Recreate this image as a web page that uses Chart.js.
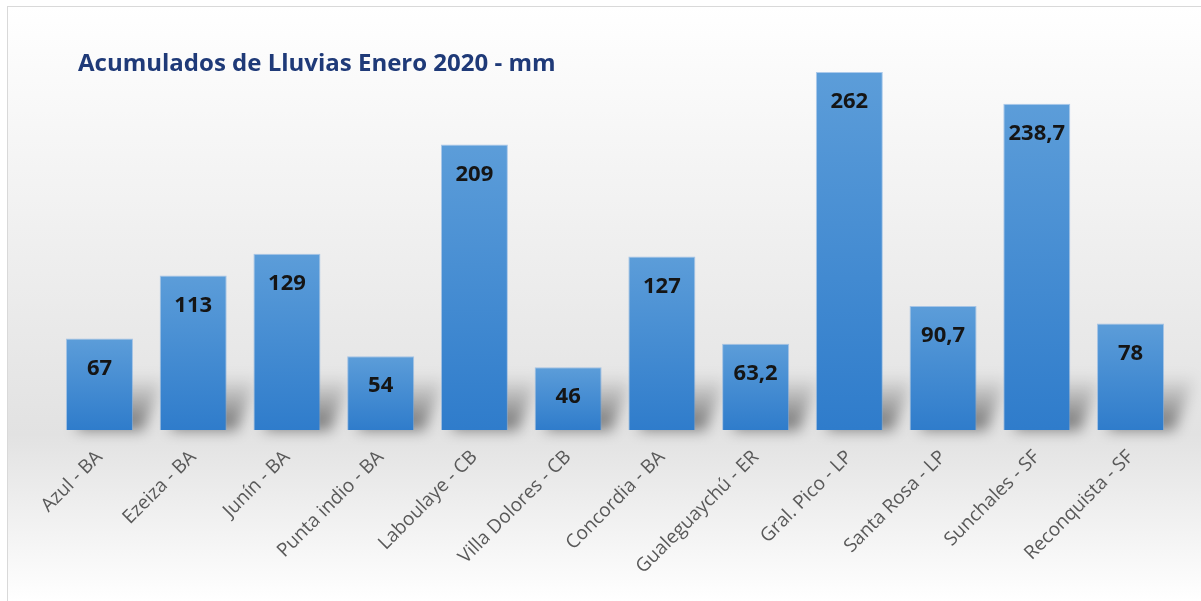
<!DOCTYPE html>
<html>
<head>
<meta charset="utf-8">
<script src="https://cdn.jsdelivr.net/npm/chart.js@4/dist/chart.umd.min.js"></script>
<style>
  body { margin: 0; background: #fff; }
  #wrap { width: 1201px; height: 601px; position: relative; }
</style>
</head>
<body>
<div id="wrap"><canvas id="chart"></canvas></div>
<script>
// Chart data
const chartTitle = 'Acumulados de Lluvias Enero 2020 - mm';
const stations = [
  'Azul - BA', 'Ezeiza - BA', 'Junín - BA', 'Punta indio - BA', 'Laboulaye - CB',
  'Villa Dolores - CB', 'Concordia - BA', 'Gualeguaychú - ER', 'Gral. Pico - LP',
  'Santa Rosa - LP', 'Sunchales - SF', 'Reconquista - SF'
];
const rainfall = [67, 113, 129, 54, 209, 46, 127, 63.2, 262, 90.7, 238.7, 78];

// background panel with soft grey band behind the bar bases
const panelPlugin = {
  id: 'panel',
  beforeDraw(chart) {
    const ctx = chart.ctx;
    const w = chart.width, h = chart.height;
    ctx.save();
    ctx.fillStyle = '#ffffff';
    ctx.fillRect(0, 0, w, h);
    const g = ctx.createLinearGradient(0, 6, 0, h);
    g.addColorStop(0, '#ffffff');
    g.addColorStop(0.72, '#e2e2e2');
    g.addColorStop(1, '#ffffff');
    ctx.fillStyle = g;
    ctx.fillRect(7, 6, w - 7, h - 6);
    ctx.strokeStyle = '#d9d9d9';
    ctx.lineWidth = 1;
    ctx.strokeRect(7.5, 6.5, w, h);
    // title
    ctx.fillStyle = '#1f3a78';
    ctx.font = 'bold 24px "Open Sans", sans-serif';
    ctx.textBaseline = 'middle';
    ctx.fillText(chartTitle, 78, 64);
    ctx.restore();
  }
};

// soft floor shadows at the foot of each bar
const shadowPlugin = {
  id: 'barShadows',
  beforeDatasetsDraw(chart) {
    const ctx = chart.ctx;
    const meta = chart.getDatasetMeta(0);
    ctx.save();
    ctx.filter = 'blur(7px)';
    meta.data.forEach(bar => {
      const left = bar.x - bar.width / 2;
      const right = bar.x + bar.width / 2;
      const base = bar.base;
      const g = ctx.createLinearGradient(0, base, 0, base - 55);
      g.addColorStop(0, 'rgba(0,0,0,0.5)');
      g.addColorStop(1, 'rgba(0,0,0,0)');
      ctx.fillStyle = g;
      ctx.beginPath();
      ctx.moveTo(left + 10, base);
      ctx.lineTo(right + 10, base);
      ctx.lineTo(right + 32, base - 55);
      ctx.lineTo(left + 32, base - 55);
      ctx.closePath();
      ctx.fill();
    });
    ctx.restore();
  }
};

// value labels inside the top of each bar
const valueLabels = {
  id: 'valueLabels',
  afterDatasetsDraw(chart) {
    const ctx = chart.ctx;
    const meta = chart.getDatasetMeta(0);
    ctx.save();
    ctx.fillStyle = '#151515';
    ctx.font = 'bold 22px "Open Sans", sans-serif';
    ctx.textAlign = 'center';
    ctx.textBaseline = 'middle';
    meta.data.forEach((bar, i) => {
      const txt = String(rainfall[i]).replace('.', ',');
      ctx.fillText(txt, bar.x, bar.y + 30);
    });
    ctx.restore();
  }
};

function barGradient(context) {
  const chart = context.chart;
  const area = chart.chartArea;
  if (!area) return '#4a8fd4';
  const y = chart.scales.y;
  const top = y.getPixelForValue(rainfall[context.dataIndex]);
  const bottom = y.getPixelForValue(0);
  const g = chart.ctx.createLinearGradient(0, top, 0, bottom);
  g.addColorStop(0, '#5c9dd9');
  g.addColorStop(1, '#2f7ccb');
  return g;
}

new Chart(document.getElementById('chart'), {
  type: 'bar',
  data: {
    labels: stations,
    datasets: [{
      data: rainfall,
      backgroundColor: barGradient,
      borderColor: 'rgba(120,170,225,0.6)',
      borderWidth: 1,
      barPercentage: 0.715,
      categoryPercentage: 1
    }]
  },
  options: {
    responsive: true,
    maintainAspectRatio: false,
    animation: false,
    devicePixelRatio: 1,
    layout: { padding: { left: 52.6, right: 23.6, top: 47.4, bottom: 0 } },
    plugins: {
      legend: { display: false },
      title: { display: false },
      tooltip: { enabled: false }
    },
    scales: {
      y: {
        display: false,
        min: 0,
        max: 280
      },
      x: {
        grid: { display: false },
        border: { display: false },
        ticks: {
          minRotation: 45,
          maxRotation: 45,
          color: '#595959',
          padding: 8,
          font: { family: 'Open Sans', size: 19 }
        },
        afterFit(s) {
          s.height = 171;
          s.paddingLeft = 0;
          s.paddingRight = 0;
        }
      }
    }
  },
  plugins: [panelPlugin, shadowPlugin, valueLabels]
});
</script>
</body>
</html>
